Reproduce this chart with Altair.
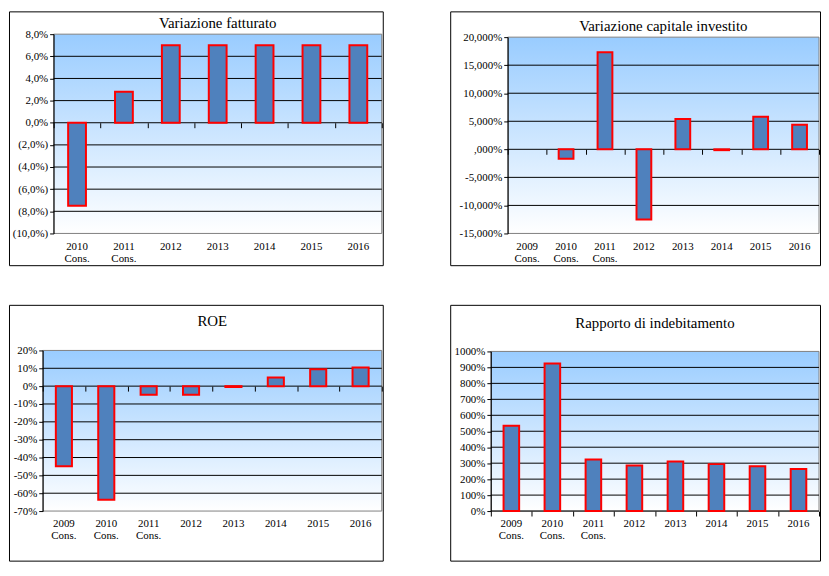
import altair as alt
import pandas as pd

# ---------------- data ----------------
cats_a = ["2010 Cons.", "2011 Cons.", "2012", "2013", "2014", "2015", "2016"]
cats_b = ["2009 Cons.", "2010 Cons.", "2011 Cons.", "2012", "2013", "2014", "2015", "2016"]

fatturato = [-7.5, 2.8, 7.0, 7.0, 7.0, 7.0, 7.0]
capitale = [None, -1.7, 17.3, -12.5, 5.4, -0.15, 5.8, 4.4]
roe = [-44.9, -63.6, -4.8, -4.8, -0.5, 4.8, 9.4, 10.5]
indebitamento = [534, 925, 323, 286, 310, 294, 281, 263]

ticks_fatt = [-10, -8, -6, -4, -2, 0, 2, 4, 6, 8]
ticks_cap = [-15, -10, -5, 0, 5, 10, 15, 20]
ticks_roe = [-70, -60, -50, -40, -30, -20, -10, 0, 10, 20]
ticks_ind = [0, 100, 200, 300, 400, 500, 600, 700, 800, 900, 1000]

titles = ["Variazione fatturato", "Variazione capitale investito", "ROE", "Rapporto di indebitamento"]

expr_fatt = ("datum.value < 0 ? '(' + replace(format(-datum.value, '.1f'), '.', ',') + '%)' "
             ": replace(format(datum.value, '.1f'), '.', ',') + '%'")
expr_cap = ("datum.value == 0 ? ',000%' : (datum.value < 0 ? '-' : '') + "
            "replace(format(abs(datum.value), '.3f'), '.', ',') + '%'")
expr_int = "datum.value + '%'"

FONT = "Times New Roman, Liberation Serif, serif"
BAR_FILL = "#4F81BD"
BAR_STROKE = "#FF0000"

gradient = alt.LinearGradient(
    gradient="linear",
    stops=[alt.GradientStop(offset=0, color="#99CCFF"),
           alt.GradientStop(offset=1, color="#FFFFFF")],
    x1=0, x2=0, y1=0, y2=1,
)


def panel(title, cats, vals, ticks, label_expr, W, H, frame, title_dy):
    # frame = margins (left, top, right, bottom) of the outer box around the plot area
    fl, ft, fr, fb = frame
    FW, FH = fl + W + fr, ft + H + fb
    df = pd.DataFrame({"cat": cats, "v": vals})
    ymin, ymax = ticks[0], ticks[-1]
    yscale = alt.Scale(domain=[ymin, ymax], nice=False, zero=False, range=[ft + H, ft])
    xscale = alt.Scale(domain=cats, paddingInner=0, paddingOuter=0, range=[fl, fl + W])
    grid_vals = [t for t in ticks if ymin < t < ymax]
    if 0 not in grid_vals:
        grid_vals.append(0)
    zero_off = H * (0 - ymin) / (ymax - ymin)

    one = alt.Data(values=[{}])

    bg = alt.Chart(one).mark_rect(fill=gradient, stroke="#808080", strokeWidth=1).encode(
        x=alt.value(fl), x2=alt.value(fl + W), y=alt.value(ft), y2=alt.value(ft + H)
    )

    yaxis = alt.Axis(values=ticks, labelExpr=label_expr, grid=False, domainColor="black",
                     tickColor="black", tickSize=4, labelPadding=2, labelFont=FONT,
                     labelFontSize=11, labelColor="black", title=None, zindex=1,
                     offset=-fl)
    grid = alt.Chart(pd.DataFrame({"t": grid_vals})).mark_rule(color="black", strokeWidth=1).encode(
        y=alt.Y("t:Q", scale=yscale, axis=yaxis), x=alt.value(fl), x2=alt.value(fl + W)
    )

    label_axis = alt.Axis(orient="bottom", offset=-fb, labelExpr="split(datum.label, ' ')",
                          labelAngle=0, ticks=False, domain=False, labelPadding=7,
                          labelFont=FONT, labelFontSize=11, labelColor="black",
                          labelLineHeight=12, title=None, zindex=1)
    bars = alt.Chart(df).mark_bar(fill=BAR_FILL, stroke=BAR_STROKE, strokeWidth=2,
                                  width=alt.RelativeBandSize(0.38)).encode(
        x=alt.X("cat:N", scale=xscale, sort=cats, axis=label_axis),
        y=alt.Y("v:Q", scale=yscale, axis=yaxis),
        y2=alt.datum(0),
    )

    tick_axis = alt.Axis(orient="bottom", offset=-(fb + zero_off), labels=False, domain=False,
                         ticks=True, tickBand="extent", tickSize=5, tickColor="black",
                         grid=False, title=None, zindex=1)
    tickl = alt.Chart(df).mark_point(opacity=0).encode(
        x=alt.X("cat:N", scale=xscale, sort=cats, axis=tick_axis),
        y=alt.value(ft + H / 2),
    )

    ttl = alt.Chart(one).mark_text(text=title, font=FONT, fontSize=15, color="black",
                                   baseline="middle", align="center").encode(
        x=alt.value(fl + W / 2), y=alt.value(ft - title_dy)
    )

    return alt.layer(bg, grid, bars, tickl, ttl).resolve_axis(x="independent").properties(
        width=FW, height=FH
    )


p1 = panel(titles[0], cats_a, fatturato, ticks_fatt, expr_fatt, 331, 201, (45, 23, 1, 32), 11)
p2 = panel(titles[1], cats_b, capitale, ticks_cap, expr_cap, 314, 198, (58, 26, 1, 32), 11)
p3 = panel(titles[2], cats_b, roe, ticks_roe, expr_int, 342, 162, (34, 46, 1, 50), 30)
p4 = panel(titles[3], cats_b, indebitamento, ticks_ind, expr_int, 331, 161, (41, 47, 1, 50), 29)

chart = alt.concat(
    p1, p2, p3, p4,
    columns=2,
    spacing=alt.RowColnumber(row=40, column=68),
    bounds="flush",
).properties(padding=0).configure_view(stroke="black", strokeWidth=1)

chart.save("out.html", embed_options={"renderer": "svg", "actions": False})
